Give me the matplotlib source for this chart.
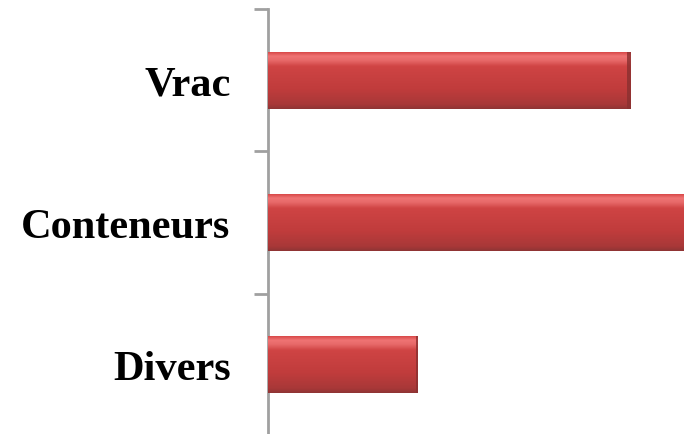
import numpy as np
import matplotlib
matplotlib.use("Agg")
import matplotlib.pyplot as plt
from matplotlib.colors import LinearSegmentedColormap

categories = ["Vrac", "Conteneurs", "Divers"]
values = [36.3, 44.0, 15.0]

W, H = 684, 435
fig = plt.figure(figsize=(W / 100, H / 100), dpi=100)
ax = fig.add_axes([268 / W, -2 / H, (W - 268) / W, 427 / H])

n = len(categories)
ypos = np.arange(n)[::-1]  # Vrac at top
bar_h = 0.40

cmap = LinearSegmentedColormap.from_list(
    "bevel",
    [(0.0, "#8e3434"), (0.08, "#a83838"), (0.35, "#c03c3c"), (0.75, "#cf4444"),
     (0.86, "#e86a6a"), (0.93, "#ef7474"), (1.0, "#d84848")])
grad = np.linspace(0, 1, 256).reshape(-1, 1)

for y, v in zip(ypos, values):
    bars = ax.barh(y, v, height=bar_h, left=0, color="#c84040",
                   edgecolor="none", zorder=2)
    patch = bars.patches[0]
    im = ax.imshow(grad, aspect="auto", cmap=cmap, origin="lower",
                   extent=(0, v, y - bar_h / 2, y + bar_h / 2), zorder=3,
                   interpolation="bilinear")
    im.set_clip_path(patch)
    # darker right edge
    ax.barh(y, v * 0.012, height=bar_h, left=v - v * 0.012, color="#8a3030",
            edgecolor="none", zorder=4, alpha=0.8)

ax.set_xlim(0, 41.6)
ax.set_ylim(-0.5, n - 0.5)

for s in ["top", "right", "bottom"]:
    ax.spines[s].set_visible(False)
ax.spines["left"].set_color("#a0a0a0")
ax.spines["left"].set_linewidth(2)

ax.set_xticks([])
ax.set_yticks([-0.5, 0.5, 1.5, 2.5])
ax.set_yticklabels([])
ax.tick_params(axis="y", length=10, width=2, color="#a0a0a0", direction="out")
ax.set_yticks(ypos, minor=True)
ax.set_yticklabels(categories, minor=True, fontfamily="Liberation Serif",
                   fontweight="bold", fontsize=30.5, color="black")
ax.tick_params(axis="y", which="minor", length=0, pad=27)

fig.savefig("out.png", dpi=100)
